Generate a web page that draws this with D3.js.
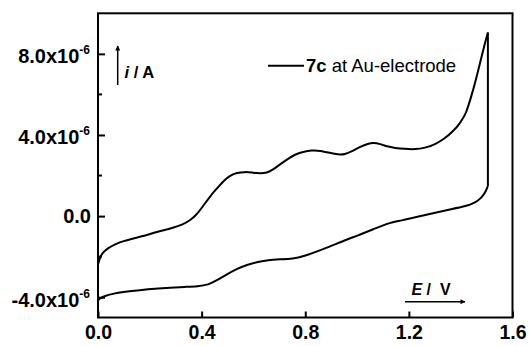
<!DOCTYPE html>
<html>
<head>
<meta charset="utf-8">
<script src="https://cdn.jsdelivr.net/npm/d3@7"></script>
<style>
  body { margin: 0; background: #fff; }
  svg { display: block; font-family: "Liberation Sans", Arial, sans-serif; }
</style>
</head>
<body>
<svg id="chart" width="529" height="346"></svg>
<script>
// forward scan (E in V, i in 1e-6 A)
const fwdE = [0.000, 0.008, 0.019, 0.039, 0.066, 0.097, 0.162, 0.228, 0.289, 0.328, 0.355, 0.378, 0.405, 0.432,
  0.459, 0.486, 0.510, 0.536, 0.567, 0.594, 0.625, 0.652, 0.675, 0.702, 0.733, 0.760, 0.791, 0.826, 0.857,
  0.895, 0.926, 0.953, 0.980, 1.011, 1.038, 1.065, 1.088, 1.115, 1.146, 1.185, 1.224, 1.262, 1.301, 1.339,
  1.370, 1.397, 1.413, 1.420, 1.440, 1.459, 1.478, 1.494, 1.505];
const fwdI = [-2.38, -2.03, -1.78, -1.57, -1.39, -1.23, -1.03, -0.78, -0.58, -0.41, -0.21, 0.03, 0.48, 0.97,
  1.36, 1.76, 2.00, 2.14, 2.18, 2.15, 2.10, 2.13, 2.28, 2.55, 2.82, 3.04, 3.17, 3.25, 3.23,
  3.12, 3.03, 3.04, 3.19, 3.41, 3.56, 3.62, 3.56, 3.43, 3.36, 3.31, 3.29, 3.36, 3.53, 3.83,
  4.17, 4.57, 4.93, 5.06, 5.85, 6.73, 7.72, 8.56, 9.05];

// switching potential: current drops from the peak
const switchE = [1.505, 1.505];
const switchI = [9.05, 1.48];

// reverse scan
const revE = [1.505, 1.497, 1.482, 1.455, 1.417, 1.359, 1.270, 1.165, 1.127, 1.061, 1.004, 0.946, 0.869,
  0.791, 0.753, 0.702, 0.656, 0.618, 0.575, 0.533, 0.494, 0.459, 0.425, 0.386, 0.336, 0.278, 0.220,
  0.162, 0.104, 0.054, 0.023, 0.008, 0.000];
const revI = [1.48, 1.22, 0.92, 0.65, 0.48, 0.33, 0.08, -0.24, -0.31, -0.66, -0.95, -1.23, -1.64,
  -2.00, -2.10, -2.13, -2.16, -2.26, -2.40, -2.62, -2.90, -3.17, -3.39, -3.46, -3.49, -3.53, -3.58,
  -3.65, -3.73, -3.83, -3.96, -4.05, -4.15];

const xTicks = [0.0, 0.4, 0.8, 1.2, 1.6];
const xTickLabels = ["0.0", "0.4", "0.8", "1.2", "1.6"];
const yTicks = [-4, 0, 4, 8];
const yTickLabels = ["-4.0x10", "0.0", "4.0x10", "8.0x10"];
const yMinor = [-2, 2, 6];

const svg = d3.select("#chart");
const mLeft = 98, mRight = 512.5, mTop = 13.3, mBottom = 317.5;

const x = d3.scaleLinear().domain([0, 1.6]).range([mLeft, mRight]);
const y = d3.scaleLinear().domain([-5, 10]).range([mBottom, mTop]);

// curves
const smooth = d3.line()
  .x(d => x(d[0]))
  .y(d => y(d[1]))
  .curve(d3.curveBasis);
const straight = d3.line()
  .x(d => x(d[0]))
  .y(d => y(d[1]));

const fwd = fwdE.map((e, i) => [e, fwdI[i]]);
const sw = switchE.map((e, i) => [e, switchI[i]]);
const rev = revE.map((e, i) => [e, revI[i]]);

[[fwd, smooth], [sw, straight], [rev, smooth]].forEach(([pts, gen]) => {
  svg.append("path")
    .datum(pts)
    .attr("d", gen)
    .attr("fill", "none")
    .attr("stroke", "#000")
    .attr("stroke-width", 2)
    .attr("stroke-linejoin", "round");
});

// x axis
const xAxis = svg.append("g")
  .attr("transform", `translate(0,${mBottom})`)
  .call(d3.axisBottom(x).tickValues(xTicks).tickSize(-6).tickPadding(8)
    .tickFormat((d, i) => xTickLabels[i]));
xAxis.select(".domain").remove();
xAxis.selectAll(".tick line").attr("stroke-width", 2);
xAxis.selectAll("text")
  .attr("font-size", 19.5)
  .attr("font-weight", "bold")
  .attr("font-family", "Liberation Sans, Arial, sans-serif")
  .attr("fill", "#000");

// y axis
const yAxis = svg.append("g")
  .attr("transform", `translate(${mLeft},0)`)
  .call(d3.axisLeft(y).tickValues(yTicks).tickSize(-7).tickPadding(7)
    .tickFormat(""));
yAxis.select(".domain").remove();
yAxis.selectAll(".tick line").attr("stroke-width", 2);

yAxis.selectAll(".tick").each(function(d, i) {
  const lab = yTickLabels[i];
  const sup = lab.indexOf("x10") >= 0;
  const t = d3.select(this).select("text")
    .attr("x", sup ? -8 : -7)
    .attr("dy", sup ? "0.45em" : "0.34em")
    .attr("font-size", 20)
    .attr("font-weight", "bold")
    .attr("font-family", "Liberation Sans, Arial, sans-serif")
    .attr("fill", "#000")
    .text(null);
  t.append("tspan").text(lab);
  if (sup) {
    t.append("tspan").attr("font-size", 12).attr("dy", -9).text("-6");
  }
});

// minor y ticks
svg.append("g").selectAll("line")
  .data(yMinor)
  .join("line")
  .attr("x1", mLeft).attr("x2", mLeft + 4)
  .attr("y1", d => y(d)).attr("y2", d => y(d))
  .attr("stroke", "#000").attr("stroke-width", 2);

// frame
svg.append("rect")
  .attr("x", mLeft).attr("y", mTop)
  .attr("width", mRight - mLeft).attr("height", mBottom - mTop)
  .attr("fill", "none").attr("stroke", "#000").attr("stroke-width", 2);

// arrows
const defs = svg.append("defs");
defs.append("marker")
  .attr("id", "arr")
  .attr("viewBox", "0 0 10 10")
  .attr("refX", 9).attr("refY", 5)
  .attr("markerWidth", 6).attr("markerHeight", 5)
  .attr("markerUnits", "userSpaceOnUse")
  .attr("orient", "auto")
  .append("path").attr("d", "M0,0L10,5L0,10z").attr("fill", "#000");

svg.append("line")
  .attr("x1", 117.7).attr("y1", 85).attr("x2", 117.7).attr("y2", 46)
  .attr("stroke", "#000").attr("stroke-width", 1.5).attr("marker-end", "url(#arr)");
const iLab = svg.append("text").attr("x", 124.5).attr("y", 78)
  .attr("font-size", 16.5).attr("font-weight", "bold");
iLab.append("tspan").attr("font-style", "italic").text("i");
iLab.append("tspan").text(" / A");

svg.append("line")
  .attr("x1", 405).attr("y1", 301.7).attr("x2", 465).attr("y2", 301.7)
  .attr("stroke", "#000").attr("stroke-width", 1.5).attr("marker-end", "url(#arr)");
const eLab = svg.append("text").attr("x", 411.5).attr("y", 295)
  .attr("font-size", 16).attr("font-weight", "bold")
  .attr("xml:space", "preserve");
eLab.append("tspan").attr("font-style", "italic").text("E");
eLab.append("tspan").text(" /  V");

// legend
svg.append("line")
  .attr("x1", 268).attr("x2", 304).attr("y1", 65.7).attr("y2", 65.7)
  .attr("stroke", "#000").attr("stroke-width", 2);
const leg = svg.append("text").attr("x", 306).attr("y", 71.5).attr("font-size", 18.5);
leg.append("tspan").attr("font-weight", "bold").text("7c");
leg.append("tspan").text(" at Au-electrode");
</script>
</body>
</html>
